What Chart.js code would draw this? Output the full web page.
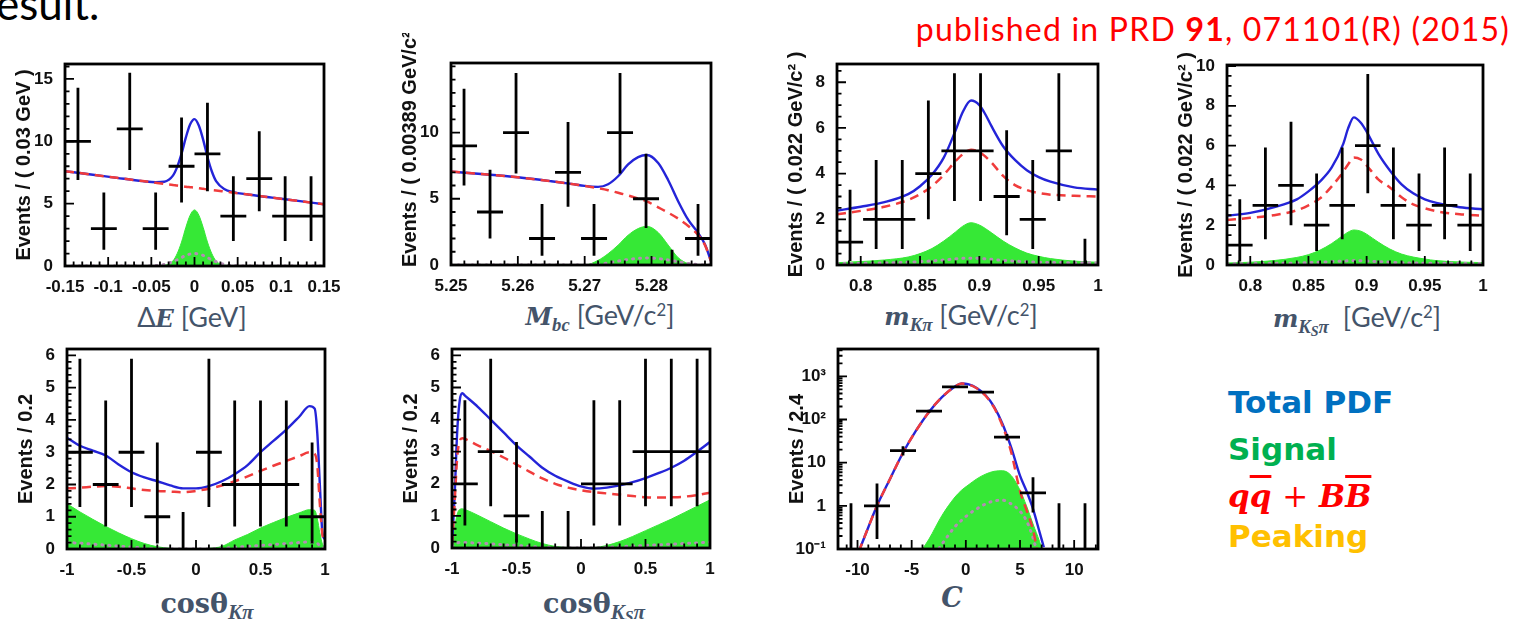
<!DOCTYPE html>
<html>
<head>
<meta charset="utf-8">
<script src="https://cdn.jsdelivr.net/npm/chart.js@4.4.1/dist/chart.umd.min.js"></script>
<style>
body { margin: 0; width: 1530px; height: 619px; background: #fff; position: relative; overflow: hidden; }
canvas { position: absolute; }
.txt { position: absolute; white-space: nowrap; line-height: 1; }
.xt { position: absolute; transform: translate(-50%, -50%); color: #44546A; font-family: Lato; font-size: 27px; line-height: 1; white-space: nowrap; }
.mi { font-family: 'DejaVu Serif'; font-weight: bold; font-style: italic; font-size: 24px; }
.cs { font-family: 'DejaVu Serif'; font-weight: bold; font-size: 27px; }
.xt sub { font-family: 'Liberation Serif'; font-weight: bold; font-style: italic; font-size: 0.78em; vertical-align: -0.3em; line-height: 0; }
.xt sub sub { font-size: 0.75em; vertical-align: -0.2em; }
.xt sup { font-size: 0.62em; vertical-align: 0.55em; line-height: 0; }
.leg { position: absolute; left: 1228px; font-family: 'DejaVu Sans'; font-weight: bold; font-size: 31px; line-height: 1; white-space: nowrap; }
</style>
</head>
<body>

<div class="txt" style="left:-4px; top:-19px; font-family:Lato; font-size:44px; color:#000;">esult.</div>
<div class="txt" style="right:20px; top:13px; font-family:Lato; font-size:32px; letter-spacing:1.2px; color:#f00;">published in PRD <b>91</b>, 071101(R) (2015)</div>

<div class="xt" style="left:192px; top:317px;">Δ<span class="mi">E</span> [GeV]</div>
<div class="xt" style="left:600px; top:315px;"><span class="mi">M<sub>bc</sub></span> [GeV/c<sup>2</sup>]</div>
<div class="xt" style="left:961px; top:315px;"><span class="mi">m<sub>Kπ</sub></span> [GeV/c<sup>2</sup>]</div>
<div class="xt" style="left:1357px; top:317px;"><span class="mi">m<sub>K<sub>S</sub>π</sub></span>&nbsp; [GeV/c<sup>2</sup>]</div>
<div class="xt" style="left:207px; top:603px;"><span class="cs">cosθ<sub>Kπ</sub></span></div>
<div class="xt" style="left:594px; top:603px;"><span class="cs">cosθ<sub>K<sub>S</sub>π</sub></span></div>
<div class="xt" style="left:952px; top:597px;"><span class="mi" style="font-size:27px">C</span></div>

<div class="leg" style="top:387px; color:#0070C0;">Total PDF</div>
<div class="leg" style="top:434px; color:#00B050;">Signal</div>
<div class="leg" style="top:481px; color:#FF0000; font-family:'DejaVu Serif'; font-style:italic;">q<span style="text-decoration:overline">q</span> <span style="font-style:normal;font-weight:normal">+</span> B<span style="text-decoration:overline">B</span></div>
<div class="leg" style="top:521px; color:#FFC000;">Peaking</div>

<script>
// =====================================
// Data: ΔE
// =====================================

const deCenters = [-0.135, -0.105, -0.075, -0.045, -0.015, 0.015, 0.045, 0.075, 0.105, 0.135];
const deCounts = [10, 3, 11, 3, 8, 9, 4, 7, 4, 4];
const deLo = [6.9, 1.3, 7.7, 1.3, 5.1, 6.0, 2.0, 4.4, 2.0, 2.0];
const deHi = [14.3, 5.9, 15.5, 5.9, 11.9, 13.1, 7.2, 10.8, 7.2, 7.2];
const deX = [-0.15, -0.12, -0.09, -0.06, -0.045, -0.035, -0.025, -0.02, -0.015, -0.01, -0.005, 0, 0.005, 0.01, 0.015, 0.02, 0.025, 0.035, 0.045, 0.06, 0.09, 0.12, 0.15];
const deTotal = [7.60, 7.34, 7.07, 6.81, 6.72, 6.76, 7.25, 7.95, 9.01, 10.31, 11.36, 11.78, 11.27, 10.14, 8.74, 7.60, 6.81, 6.15, 5.93, 5.75, 5.48, 5.22, 4.95];
const deBkg = [7.60, 7.34, 7.07, 6.81, 6.67, 6.58, 6.50, 6.45, 6.41, 6.36, 6.32, 6.28, 6.23, 6.19, 6.14, 6.10, 6.06, 5.97, 5.88, 5.75, 5.48, 5.22, 4.95];
const deSig = [0, 0, 0, 0, 0.02, 0.06, 0.4, 1.0, 1.92, 3.1, 4.08, 4.5, 4.08, 3.1, 1.92, 1.0, 0.4, 0.06, 0.02, 0, 0, 0, 0];
const dePeak = [0, 0, 0, 0, 0.03, 0.12, 0.35, 0.5, 0.68, 0.85, 0.96, 1.0, 0.96, 0.85, 0.68, 0.5, 0.35, 0.12, 0.03, 0, 0, 0, 0];
const deXTicks = [-0.15, -0.1, -0.05, 0, 0.05, 0.1, 0.15];
const deXLabels = ["-0.15", "-0.1", "-0.05", "0", "0.05", "0.1", "0.15"];
const deYTicks = [0, 5, 10, 15];
const deYLabels = ["0", "5", "10", "15"];

// =====================================
// Data: Mbc
// =====================================

const mbcCenters = [5.25195, 5.25584, 5.25973, 5.26362, 5.26751, 5.2714, 5.27529, 5.27918, 5.28307, 5.28696];
const mbcCounts = [9, 4, 10, 2, 7, 2, 10, 5, 0, 2];
const mbcLo = [6.0, 2.0, 6.9, 0.7, 4.4, 0.7, 6.9, 2.8, 0, 0.7];
const mbcHi = [13.3, 7.2, 14.5, 4.6, 10.8, 4.6, 14.5, 8.4, 1.15, 4.6];
const mbcX = [5.25, 5.255, 5.26, 5.265, 5.268, 5.27, 5.272, 5.2735, 5.275, 5.2765, 5.278, 5.2793, 5.281, 5.2825, 5.284, 5.2855, 5.287, 5.288, 5.2889];
const mbcTotal = [7.05, 6.85, 6.62, 6.32, 6.12, 5.97, 5.9, 6.1, 6.7, 7.6, 8.15, 8.3, 7.7, 6.4, 4.8, 3.4, 2.4, 1.55, 0.3];
const mbcBkg = [7.05, 6.85, 6.62, 6.32, 6.12, 5.97, 5.8, 5.65, 5.45, 5.25, 5.02, 4.8, 4.35, 3.95, 3.5, 2.95, 2.25, 1.5, 0.3];
const mbcSig = [0, 0, 0, 0, 0, 0, 0.35, 0.85, 1.5, 2.25, 2.75, 2.92, 2.45, 1.5, 0.55, 0.1, 0, 0, 0];
const mbcPeak = [0, 0, 0, 0, 0, 0, 0.05, 0.15, 0.3, 0.42, 0.5, 0.52, 0.48, 0.38, 0.25, 0.12, 0.03, 0, 0];
const mbcXTicks = [5.25, 5.26, 5.27, 5.28];
const mbcXLabels = ["5.25", "5.26", "5.27", "5.28"];
const mbcYTicks = [0, 5, 10];
const mbcYLabels = ["0", "5", "10"];

// =====================================
// Data: m(Kπ)
// =====================================

const mkpCenters = [0.791, 0.813, 0.835, 0.857, 0.879, 0.901, 0.923, 0.945, 0.967, 0.989];
const mkpCounts = [1, 2, 2, 4, 5, 5, 3, 2, 5, 0];
const mkpLo = [0.17, 0.7, 0.7, 2.0, 2.8, 2.8, 1.3, 0.7, 2.8, 0];
const mkpHi = [3.3, 4.6, 4.6, 7.2, 8.4, 8.4, 5.9, 4.6, 8.4, 1.15];
const mkpX = [0.78, 0.8, 0.82, 0.84, 0.85, 0.86, 0.87, 0.88, 0.886, 0.893, 0.9, 0.905, 0.91, 0.92, 0.93, 0.94, 0.95, 0.96, 0.98, 1.0];
const mkpTotal = [2.38, 2.55, 2.75, 3.1, 3.45, 3.95, 4.7, 5.9, 6.7, 7.2, 7.0, 6.6, 6.1, 5.2, 4.6, 4.15, 3.85, 3.65, 3.4, 3.3];
const mkpBkg = [2.22, 2.37, 2.55, 2.85, 3.1, 3.45, 3.95, 4.55, 4.85, 5.05, 4.95, 4.75, 4.5, 3.9, 3.5, 3.28, 3.15, 3.08, 3.03, 3.0];
const mkpSig = [0.1, 0.15, 0.22, 0.35, 0.5, 0.72, 1.05, 1.45, 1.7, 1.85, 1.75, 1.6, 1.42, 1.05, 0.75, 0.52, 0.38, 0.28, 0.17, 0.12];
const mkpPeak = [0.06, 0.07, 0.09, 0.12, 0.15, 0.18, 0.22, 0.27, 0.29, 0.3, 0.29, 0.27, 0.25, 0.2, 0.17, 0.14, 0.12, 0.11, 0.1, 0.09];
const mkpXTicks = [0.8, 0.85, 0.9, 0.95, 1];
const mkpXLabels = ["0.8", "0.85", "0.9", "0.95", "1"];
const mkpYTicks = [0, 2, 4, 6, 8];
const mkpYLabels = ["0", "2", "4", "6", "8"];

// =====================================
// Data: m(Ksπ)
// =====================================

const mkspCenters = [0.791, 0.813, 0.835, 0.857, 0.879, 0.901, 0.923, 0.945, 0.967, 0.989];
const mkspCounts = [1, 3, 4, 2, 3, 6, 3, 2, 3, 2];
const mkspLo = [0.17, 1.3, 2.0, 0.7, 1.3, 3.6, 1.3, 0.7, 1.3, 0.7];
const mkspHi = [3.3, 5.9, 7.2, 4.6, 5.9, 9.6, 5.9, 4.6, 5.9, 4.6];
const mkspX = [0.78, 0.8, 0.82, 0.84, 0.85, 0.86, 0.87, 0.88, 0.884, 0.889, 0.895, 0.9, 0.905, 0.91, 0.92, 0.93, 0.94, 0.95, 0.96, 0.98, 1.0];
const mkspTotal = [2.48, 2.62, 2.9, 3.3, 3.7, 4.2, 4.9, 6.1, 6.85, 7.42, 7.15, 6.7, 6.15, 5.6, 4.75, 4.05, 3.6, 3.3, 3.12, 2.9, 2.8];
const mkspBkg = [2.26, 2.37, 2.5, 2.75, 3.0, 3.35, 3.95, 4.7, 5.05, 5.4, 5.3, 5.0, 4.65, 4.3, 3.9, 3.4, 3.05, 2.85, 2.7, 2.55, 2.48];
const mkspSig = [0.1, 0.14, 0.22, 0.38, 0.52, 0.75, 1.08, 1.5, 1.65, 1.76, 1.7, 1.55, 1.35, 1.15, 0.8, 0.55, 0.4, 0.3, 0.22, 0.15, 0.12];
const mkspPeak = [0.06, 0.07, 0.08, 0.1, 0.12, 0.14, 0.17, 0.2, 0.21, 0.22, 0.21, 0.2, 0.18, 0.17, 0.14, 0.12, 0.1, 0.09, 0.09, 0.08, 0.08];
const mkspXTicks = [0.8, 0.85, 0.9, 0.95, 1];
const mkspXLabels = ["0.8", "0.85", "0.9", "0.95", "1"];
const mkspYTicks = [0, 2, 4, 6, 8, 10];
const mkspYLabels = ["0", "2", "4", "6", "8", "10"];

// =====================================
// Data: cosθ(Kπ)
// =====================================

const ckpCenters = [-0.9, -0.7, -0.5, -0.3, -0.1, 0.1, 0.3, 0.5, 0.7, 0.9];
const ckpCounts = [3, 2, 3, 1, 0, 3, 2, 2, 2, 1];
const ckpLo = [1.3, 0.7, 1.3, 0.17, 0, 1.3, 0.7, 0.7, 0.7, 0.17];
const ckpHi = [5.9, 4.6, 5.9, 3.3, 1.15, 5.9, 4.6, 4.6, 4.6, 3.3];
const ckpX = [-1, -0.9, -0.8, -0.7, -0.6, -0.5, -0.4, -0.3, -0.2, -0.1, 0, 0.1, 0.2, 0.3, 0.4, 0.5, 0.6, 0.7, 0.8, 0.88, 0.92, 0.94, 0.96, 0.98, 1.0];
const ckpTotal = [3.45, 3.2, 3.05, 2.9, 2.62, 2.38, 2.22, 2.1, 1.97, 1.88, 1.88, 1.95, 2.1, 2.32, 2.6, 3.0, 3.35, 3.7, 4.1, 4.43, 4.35, 3.6, 2.0, 0.5, 0.3];
const ckpBkg = [1.88, 1.9, 1.93, 1.95, 1.93, 1.88, 1.83, 1.8, 1.78, 1.76, 1.8, 1.87, 1.97, 2.1, 2.25, 2.42, 2.58, 2.73, 2.88, 3.0, 2.95, 2.6, 1.4, 0.45, 0.25];
const ckpSig = [1.4, 1.15, 0.92, 0.7, 0.5, 0.32, 0.17, 0.07, 0.02, 0, 0, 0.02, 0.08, 0.28, 0.45, 0.65, 0.82, 0.98, 1.12, 1.22, 1.2, 0.95, 0.5, 0.15, 0.05];
const ckpPeak = [0.2, 0.18, 0.15, 0.12, 0.09, 0.06, 0.03, 0.01, 0, 0, 0, 0, 0.02, 0.05, 0.08, 0.11, 0.14, 0.17, 0.2, 0.22, 0.22, 0.18, 0.1, 0.04, 0.02];
const ckpXTicks = [-1, -0.5, 0, 0.5, 1];
const ckpXLabels = ["-1", "-0.5", "0", "0.5", "1"];
const ckpYTicks = [0, 1, 2, 3, 4, 5, 6];
const ckpYLabels = ["0", "1", "2", "3", "4", "5", "6"];

// =====================================
// Data: cosθ(Ksπ)
// =====================================

const ckspCenters = [-0.9, -0.7, -0.5, -0.3, -0.1, 0.1, 0.3, 0.5, 0.7, 0.9];
const ckspCounts = [2, 3, 1, 0, 0, 2, 2, 3, 3, 3];
const ckspLo = [0.7, 1.3, 0.17, 0, 0, 0.7, 0.7, 1.3, 1.3, 1.3];
const ckspHi = [4.6, 5.9, 3.3, 1.15, 1.15, 4.6, 4.6, 5.9, 5.9, 5.9];
const ckspX = [-1, -0.98, -0.96, -0.94, -0.92, -0.9, -0.8, -0.7, -0.6, -0.5, -0.4, -0.3, -0.2, -0.1, 0, 0.1, 0.2, 0.3, 0.4, 0.5, 0.6, 0.7, 0.8, 0.9, 1.0];
const ckspTotal = [0.1, 1.6, 3.6, 4.6, 4.82, 4.75, 4.4, 4.0, 3.6, 3.2, 2.85, 2.5, 2.25, 2.07, 1.92, 1.85, 1.88, 1.95, 2.05, 2.18, 2.33, 2.5, 2.72, 3.0, 3.3];
const ckspBkg = [0.1, 1.4, 2.8, 3.35, 3.42, 3.4, 3.2, 3.02, 2.82, 2.6, 2.38, 2.17, 2.0, 1.88, 1.8, 1.74, 1.7, 1.66, 1.62, 1.58, 1.57, 1.58, 1.6, 1.65, 1.72];
const ckspSig = [0.1, 0.6, 1.05, 1.2, 1.22, 1.2, 1.02, 0.82, 0.62, 0.44, 0.28, 0.14, 0.05, 0.01, 0, 0.01, 0.08, 0.2, 0.36, 0.54, 0.72, 0.9, 1.1, 1.3, 1.5];
const ckspPeak = [0.05, 0.12, 0.16, 0.17, 0.17, 0.17, 0.15, 0.13, 0.1, 0.08, 0.05, 0.03, 0.01, 0, 0, 0, 0.02, 0.04, 0.06, 0.08, 0.1, 0.12, 0.14, 0.16, 0.18];
const ckspXTicks = [-1, -0.5, 0, 0.5, 1];
const ckspXLabels = ["-1", "-0.5", "0", "0.5", "1"];
const ckspYTicks = [0, 1, 2, 3, 4, 5, 6];
const ckspYLabels = ["0", "1", "2", "3", "4", "5", "6"];

// =====================================
// Data: C (log scale)
// =====================================

const cCenters = [-10.6, -8.2, -5.8, -3.4, -1.0, 1.4, 3.8, 6.2, 8.6, 11.0];
const cCounts = [0, 1, 19, 156, 569, 430, 39, 2, 0, 0];
const cLo = [0, 0.17, 14.7, 144, 545, 409, 33, 0.7, 0, 0];
const cHi = [1.15, 3.3, 24, 169, 593, 451, 46, 4.6, 1.15, 1.15];
const cX = [-9.9, -9, -8.2, -7, -5.8, -4.6, -3.4, -2.2, -1.0, -0.4, 0.2, 1.0, 1.8, 2.6, 3.4, 4.2, 5.0, 5.6, 6.2, 6.8, 7.2];
const cTotal = [0.085, 0.32, 1.0, 4.2, 17, 55, 150, 330, 580, 680, 660, 540, 370, 200, 78, 22, 5.0, 2.2, 0.85, 0.25, 0.11];
const cBkg = [0.085, 0.32, 1.0, 4.2, 17, 55, 150, 330, 580, 680, 650, 530, 360, 190, 70, 17, 2.2, 0.8, 0.28, 0.05, 0.02];
const cSig = [0.001, 0.001, 0.002, 0.005, 0.02, 0.06, 0.17, 0.6, 1.6, 2.3, 3.0, 4.2, 5.4, 6.3, 6.5, 5.0, 2.3, 1.0, 0.38, 0.15, 0.07];
const cPeak = [0.001, 0.001, 0.001, 0.002, 0.006, 0.02, 0.05, 0.13, 0.33, 0.46, 0.62, 0.85, 1.1, 1.3, 1.35, 1.1, 0.75, 0.45, 0.18, 0.05, 0.02];
const cXTicks = [-10, -5, 0, 5, 10];
const cXLabels = ["-10", "-5", "0", "5", "10"];
const cYTicks = [0.1, 1, 10, 100, 1000];
const cYLabels = ["10⁻¹", "1", "10", "10²", "10³"];

// =====================================
// Style
// =====================================

const PAD_L = 60, PAD_R = 25, PAD_T = 30, PAD_B = 30;
const BLUE = "#2424d8";
const RED = "#f03c3c";
const GREEN = "#36e836";
const DOT = "#b48cb4";
const TICK_FONT = { family: "Liberation Sans", size: 17, weight: "bold" };

// frame drawn like ROOT: ticks inside, box on top, y title on the left
const rootFrame = {
    id: "rootFrame",
    afterDatasetsDraw(chart, args, o) {
        const { ctx, chartArea: a, scales: { x, y } } = chart;
        ctx.save();
        ctx.strokeStyle = "#000";
        ctx.lineWidth = 1.8;
        ctx.beginPath();
        x.ticks.forEach(t => {
            const p = x.getPixelForValue(t.value);
            ctx.moveTo(p, a.bottom); ctx.lineTo(p, a.bottom - 9);
        });
        const n0 = Math.ceil(x.min / o.xMinor - 1e-6), n1 = Math.floor(x.max / o.xMinor + 1e-6);
        for (let n = n0; n <= n1; n++) {
            const p = x.getPixelForValue(n * o.xMinor);
            ctx.moveTo(p, a.bottom); ctx.lineTo(p, a.bottom - 4.5);
        }
        y.ticks.forEach(t => {
            const p = y.getPixelForValue(t.value);
            ctx.moveTo(a.left, p); ctx.lineTo(a.left + 9, p);
        });
        if (o.log) {
            for (let d = -1; d <= 3; d++) {
                for (let m = 2; m <= 9; m++) {
                    const v = m * Math.pow(10, d);
                    if (v > y.max) continue;
                    const p = y.getPixelForValue(v);
                    ctx.moveTo(a.left, p); ctx.lineTo(a.left + 4.5, p);
                }
            }
        } else {
            const k0 = Math.ceil(y.min / o.yMinor - 1e-6), k1 = Math.floor(y.max / o.yMinor + 1e-6);
            for (let k = k0; k <= k1; k++) {
                const p = y.getPixelForValue(k * o.yMinor);
                ctx.moveTo(a.left, p); ctx.lineTo(a.left + 4.5, p);
            }
        }
        ctx.stroke();
        ctx.lineWidth = 2.8;
        ctx.strokeRect(a.left, a.top, a.width, a.height);

        // y axis title
        ctx.fillStyle = "#111";
        ctx.font = 'bold 20px "Liberation Sans"';
        ctx.textBaseline = "middle";
        ctx.translate(a.left - 41, o.titleFromBottom ? a.bottom + 2 : (a.top + a.bottom) / 2);
        ctx.rotate(-Math.PI / 2);
        ctx.textAlign = o.titleFromBottom ? "left" : "center";
        ctx.fillText(o.title, 0, 0);
        ctx.restore();
    }
};

function pts(xs, ys) {
    return xs.map((v, i) => ({ x: v, y: ys[i] }));
}

function vBars(centers, lo, hi, yMin) {
    const out = [];
    centers.forEach((c, i) => {
        out.push({ x: c, y: Math.max(lo[i], yMin) }, { x: c, y: hi[i] }, { x: c, y: null });
    });
    return out;
}

function hBars(centers, counts, w) {
    const out = [];
    centers.forEach((c, i) => {
        if (counts[i] > 0) out.push({ x: c - w / 2, y: counts[i] }, { x: c + w / 2, y: counts[i] }, { x: c + w / 2, y: null });
    });
    return out;
}

function panel(p) {
    const cv = document.createElement("canvas");
    cv.width = p.frame[2] + PAD_L + PAD_R;
    cv.height = p.frame[3] + PAD_T + PAD_B;
    cv.style.left = (p.frame[0] - PAD_L) + "px";
    cv.style.top = (p.frame[1] - PAD_T) + "px";
    document.body.appendChild(cv);

    const curve = { pointRadius: 0, cubicInterpolationMode: "monotone", fill: false };

    new Chart(cv, {
        type: "line",
        data: {
            datasets: [
                { data: vBars(p.centers, p.lo, p.hi, p.y[0]), borderColor: "#000", borderWidth: 2.8, pointRadius: 0, order: 0 },
                { data: hBars(p.centers, p.counts, p.binWidth), borderColor: "#000", borderWidth: 2.8, pointRadius: 0, order: 0 },
                { ...curve, data: pts(p.x, p.bkg), borderColor: RED, borderWidth: 2.5, borderDash: [9, 6], order: 1 },
                { ...curve, data: pts(p.x, p.total), borderColor: BLUE, borderWidth: 2.4, order: 2 },
                { ...curve, data: pts(p.x, p.peak), borderColor: DOT, borderWidth: 3, borderDash: [1, 6], borderCapStyle: "round", order: 3 },
                { ...curve, data: pts(p.x, p.sig), borderColor: GREEN, borderWidth: 1, backgroundColor: GREEN, fill: "start", order: 4 }
            ]
        },
        options: {
            responsive: false,
            animation: false,
            devicePixelRatio: 1,
            layout: { padding: { top: PAD_T, right: PAD_R, left: 0, bottom: 0 } },
            plugins: {
                legend: { display: false },
                tooltip: { enabled: false },
                rootFrame: { xMinor: p.xMinor, yMinor: p.yMinor, log: p.log, title: p.title, titleFromBottom: p.titleFromBottom }
            },
            scales: {
                x: {
                    type: "linear",
                    min: p.xr[0],
                    max: p.xr[1],
                    grid: { display: false },
                    border: { display: false },
                    afterBuildTicks: s => { s.ticks = p.xTicks.map(v => ({ value: v })); },
                    afterFit: s => { s.height = PAD_B; },
                    ticks: {
                        autoSkip: false, maxRotation: 0, padding: 3, color: "#111", font: TICK_FONT,
                        callback: (v, i) => p.xLabels[i]
                    }
                },
                y: {
                    type: p.log ? "logarithmic" : "linear",
                    min: p.y[0],
                    max: p.y[1],
                    grid: { display: false },
                    border: { display: false },
                    afterBuildTicks: s => { s.ticks = p.yTicks.map(v => ({ value: v })); },
                    afterFit: s => { s.width = PAD_L; },
                    ticks: {
                        autoSkip: false, padding: 4, color: "#111", font: TICK_FONT,
                        callback: (v, i) => p.yLabels[i]
                    }
                }
            }
        },
        plugins: [rootFrame]
    });
}

// =====================================
// Panels
// =====================================

panel({ frame: [65, 64, 259, 202], xr: [-0.15, 0.15], y: [0, 16.2], binWidth: 0.03, xMinor: 0.01, yMinor: 1,
    centers: deCenters, counts: deCounts, lo: deLo, hi: deHi, x: deX, total: deTotal, bkg: deBkg, sig: deSig, peak: dePeak,
    xTicks: deXTicks, xLabels: deXLabels, yTicks: deYTicks, yLabels: deYLabels, title: "Events / ( 0.03 GeV )" });

panel({ frame: [451, 63, 260, 202], xr: [5.25, 5.2889], y: [0, 15.25], binWidth: 0.00389, xMinor: 0.002, yMinor: 1,
    centers: mbcCenters, counts: mbcCounts, lo: mbcLo, hi: mbcHi, x: mbcX, total: mbcTotal, bkg: mbcBkg, sig: mbcSig, peak: mbcPeak,
    xTicks: mbcXTicks, xLabels: mbcXLabels, yTicks: mbcYTicks, yLabels: mbcYLabels, title: "Events / ( 0.00389 GeV/c² )", titleFromBottom: true });

panel({ frame: [837, 64, 261, 201], xr: [0.78, 1.0], y: [0, 8.8], binWidth: 0.022, xMinor: 0.01, yMinor: 0.5,
    centers: mkpCenters, counts: mkpCounts, lo: mkpLo, hi: mkpHi, x: mkpX, total: mkpTotal, bkg: mkpBkg, sig: mkpSig, peak: mkpPeak,
    xTicks: mkpXTicks, xLabels: mkpXLabels, yTicks: mkpYTicks, yLabels: mkpYLabels, title: "Events / ( 0.022 GeV/c² )" });

panel({ frame: [1227, 65, 256, 200], xr: [0.78, 1.0], y: [0, 10.05], binWidth: 0.022, xMinor: 0.01, yMinor: 0.5,
    centers: mkspCenters, counts: mkspCounts, lo: mkspLo, hi: mkspHi, x: mkspX, total: mkspTotal, bkg: mkspBkg, sig: mkspSig, peak: mkspPeak,
    xTicks: mkspXTicks, xLabels: mkspXLabels, yTicks: mkspYTicks, yLabels: mkspYLabels, title: "Events / ( 0.022 GeV/c² )" });

panel({ frame: [67, 349, 258, 200], xr: [-1, 1], y: [0, 6.2], binWidth: 0.2, xMinor: 0.1, yMinor: 0.2,
    centers: ckpCenters, counts: ckpCounts, lo: ckpLo, hi: ckpHi, x: ckpX, total: ckpTotal, bkg: ckpBkg, sig: ckpSig, peak: ckpPeak,
    xTicks: ckpXTicks, xLabels: ckpXLabels, yTicks: ckpYTicks, yLabels: ckpYLabels, title: "Events / 0.2" });

panel({ frame: [452, 349, 258, 199], xr: [-1, 1], y: [0, 6.2], binWidth: 0.2, xMinor: 0.1, yMinor: 0.2,
    centers: ckspCenters, counts: ckspCounts, lo: ckspLo, hi: ckspHi, x: ckspX, total: ckspTotal, bkg: ckspBkg, sig: ckspSig, peak: ckspPeak,
    xTicks: ckspXTicks, xLabels: ckspXLabels, yTicks: ckspYTicks, yLabels: ckspYLabels, title: "Events / 0.2" });

panel({ frame: [838, 349, 260, 200], xr: [-11.8, 12.2], y: [0.1, 4300], log: true, binWidth: 2.4, xMinor: 1, yMinor: 1,
    centers: cCenters, counts: cCounts, lo: cLo, hi: cHi, x: cX, total: cTotal, bkg: cBkg, sig: cSig, peak: cPeak,
    xTicks: cXTicks, xLabels: cXLabels, yTicks: cYTicks, yLabels: cYLabels, title: "Events / 2.4" });
</script>
</body>
</html>
